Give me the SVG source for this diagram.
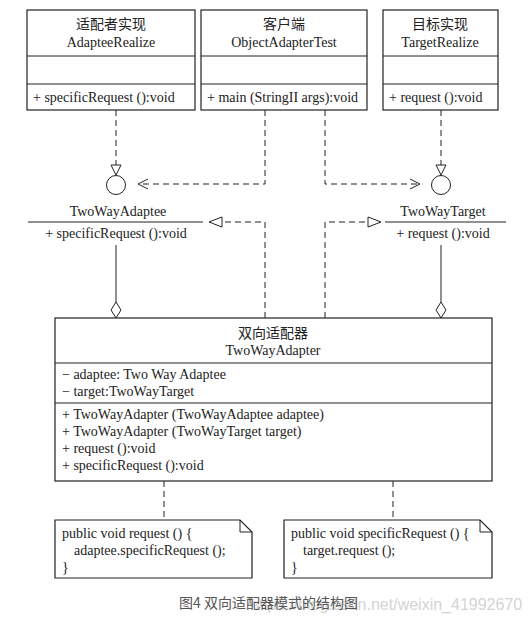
<svg xmlns="http://www.w3.org/2000/svg" width="532" height="624" viewBox="0 0 532 624">
<style>
.box{fill:#fff;stroke:#222;stroke-width:1.2}
.ln{fill:none;stroke:#222;stroke-width:1}
.dash{fill:none;stroke:#222;stroke-width:1;stroke-dasharray:6,4}
.t{font-family:"Liberation Serif","Noto Sans CJK SC",serif;font-size:14px;fill:#222}
.c{text-anchor:middle}
.cap{font-family:"Noto Sans CJK SC","Liberation Sans",sans-serif;font-size:14px;fill:#555}
.wm{font-family:"Liberation Sans",sans-serif;font-size:16px;fill:#d4d4d4}
.tri{fill:#fff;stroke:#222;stroke-width:1}
</style>
<rect width="532" height="624" fill="#fff"/>
<g id="connectors">
<line class="dash" x1="116" y1="110" x2="116" y2="165"/>
<polygon class="tri" points="111,165 121,165 116,175"/>
<line class="dash" x1="441" y1="110" x2="441" y2="165"/>
<polygon class="tri" points="436,165 446,165 441,175"/>
<polyline class="dash" points="265,110 265,184 140,184"/>
<polyline class="ln" points="148,179 138,184 148,189"/>
<polyline class="dash" points="325,110 325,184 418,184"/>
<polyline class="ln" points="410,179 420,184 410,189"/>
<polyline class="dash" points="265,318 265,222 222,222"/>
<polygon class="tri" points="222,217 222,227 209,222"/>
<polyline class="dash" points="325,318 325,222 368,222"/>
<polygon class="tri" points="368,217 368,227 381,222"/>
<line class="ln" x1="116" y1="245" x2="116" y2="302"/>
<polygon class="tri" points="116,302 121,310 116,318 111,310"/>
<line class="ln" x1="441" y1="245" x2="441" y2="302"/>
<polygon class="tri" points="441,302 446,310 441,318 436,310"/>
<line class="dash" x1="164" y1="481" x2="164" y2="520"/>
<line class="dash" x1="393" y1="481" x2="393" y2="520"/>
</g>
<g id="AdapteeRealize">
<rect class="box" x="27" y="10" width="168" height="100"/>
<line class="ln" x1="27" y1="56" x2="195" y2="56"/>
<line class="ln" x1="27" y1="84" x2="195" y2="84"/>
<text class="t c" x="111" y="29">适配者实现</text>
<text class="t c" x="111" y="47">AdapteeRealize</text>
<text class="t" x="33" y="102">+ specificRequest ():void</text>
</g>
<g id="ObjectAdapterTest">
<rect class="box" x="201" y="10" width="166" height="100"/>
<line class="ln" x1="201" y1="56" x2="367" y2="56"/>
<line class="ln" x1="201" y1="84" x2="367" y2="84"/>
<text class="t c" x="284" y="29">客户端</text>
<text class="t c" x="284" y="47">ObjectAdapterTest</text>
<text class="t" x="207" y="102">+ main (StringII args):void</text>
</g>
<g id="TargetRealize">
<rect class="box" x="383" y="10" width="115" height="100"/>
<line class="ln" x1="383" y1="56" x2="498" y2="56"/>
<line class="ln" x1="383" y1="84" x2="498" y2="84"/>
<text class="t c" x="440" y="29">目标实现</text>
<text class="t c" x="440" y="47">TargetRealize</text>
<text class="t" x="389" y="102">+ request ():void</text>
</g>
<g id="TwoWayAdaptee">
<circle class="tri" cx="116" cy="185" r="9.5"/>
<text class="t c" x="118" y="216">TwoWayAdaptee</text>
<line class="ln" x1="28" y1="222" x2="203" y2="222"/>
<text class="t c" x="116" y="238">+ specificRequest ():void</text>
</g>
<g id="TwoWayTarget">
<circle class="tri" cx="441" cy="185" r="9.5"/>
<text class="t c" x="443" y="216">TwoWayTarget</text>
<line class="ln" x1="385" y1="222" x2="506" y2="222"/>
<text class="t c" x="443" y="238">+ request ():void</text>
</g>
<g id="TwoWayAdapter">
<rect class="box" x="55" y="318" width="437" height="163"/>
<line class="ln" x1="55" y1="363" x2="492" y2="363"/>
<line class="ln" x1="55" y1="403" x2="492" y2="403"/>
<text class="t c" x="273" y="338">双向适配器</text>
<text class="t c" x="273" y="355">TwoWayAdapter</text>
<text class="t" x="62" y="379">− adaptee:  Two Way Adaptee</text>
<text class="t" x="62" y="396">− target:TwoWayTarget</text>
<text class="t" x="62" y="419">+ TwoWayAdapter (TwoWayAdaptee adaptee)</text>
<text class="t" x="62" y="436">+ TwoWayAdapter (TwoWayTarget target)</text>
<text class="t" x="62" y="453">+ request ():void</text>
<text class="t" x="62" y="470">+ specificRequest ():void</text>
</g>
<g id="note1">
<path class="box" d="M55,520 H240 L252,532 V578 H55 Z"/>
<path class="ln" d="M240,520 V532 H252"/>
<text class="t" x="62" y="538">public void request () {</text>
<text class="t" x="74" y="555">adaptee.specificRequest ();</text>
<text class="t" x="62" y="572">}</text>
</g>
<g id="note2">
<path class="box" d="M284,520 H480 L492,532 V578 H284 Z"/>
<path class="ln" d="M480,520 V532 H492"/>
<text class="t" x="291" y="538">public void specificRequest () {</text>
<text class="t" x="303" y="555">target.request ();</text>
<text class="t" x="291" y="572">}</text>
</g>
<text class="wm" x="250" y="610">https://blog.csdn.net/weixin_41992670</text>
<text class="cap" x="179" y="608">图4 双向适配器模式的结构图</text>
</svg>
